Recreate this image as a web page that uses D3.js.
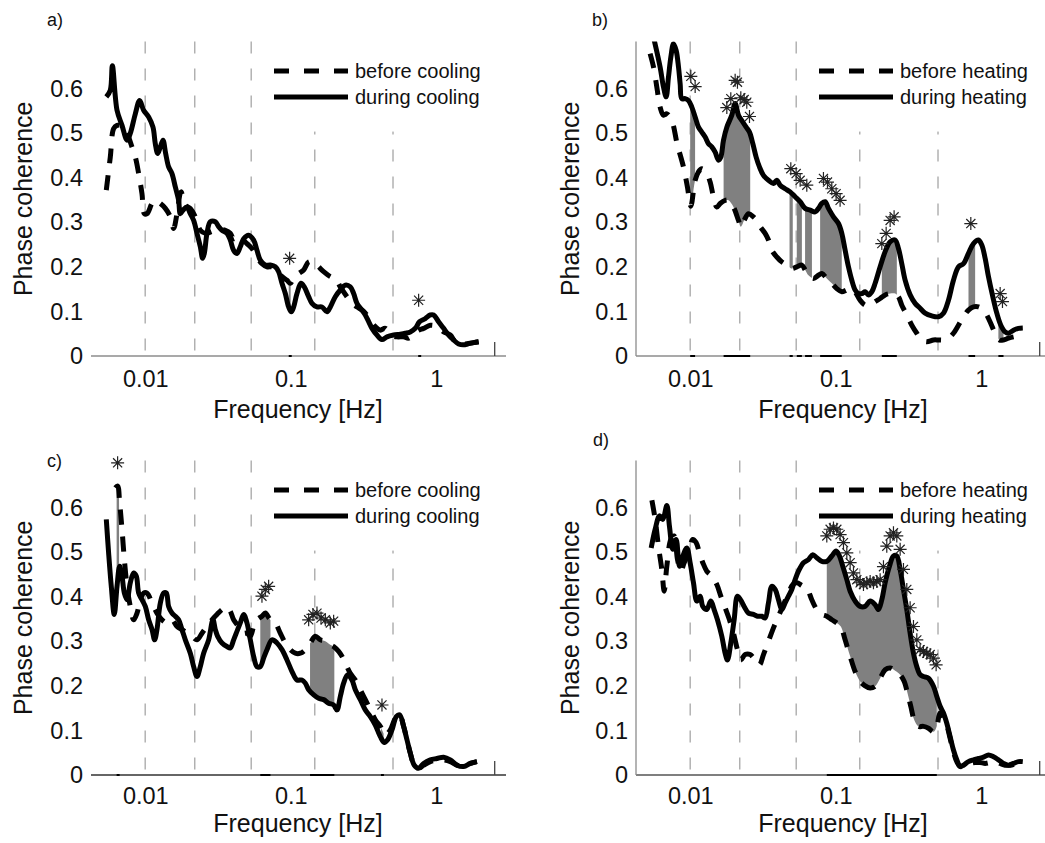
<!DOCTYPE html>
<html><head><meta charset="utf-8">
<script src="https://cdn.jsdelivr.net/npm/d3@7"></script>
<style>
html,body{margin:0;padding:0;background:#fff;}
svg{display:block;font-family:"Liberation Sans",Arial,Helvetica,sans-serif;}
</style></head>
<body>
<svg id="chart" width="1045" height="843"></svg>
<script>
// ---------------- data ----------------
const xTicks = [0.01, 0.1, 1];
const xTickLabels = ["0.01", "0.1", "1"];
const yTicks = [0, 0.1, 0.2, 0.3, 0.4, 0.5, 0.6];
const yTickLabels = ["0", "0.1", "0.2", "0.3", "0.4", "0.5", "0.6"];
const bandEdges = [0.0099, 0.0217, 0.053, 0.145, 0.5];
const panelLetters = ["a)", "b)", "c)", "d)"];
const legendCooling = ["before cooling", "during cooling"];
const legendHeating = ["before heating", "during heating"];

// panel a
const aDuring = [[0.00535,0.581],[0.0057,0.596],[0.00589,0.651],[0.00634,0.551],[0.00686,0.517],[0.00743,0.484],[0.00782,0.499],[0.00847,0.543],[0.00907,0.573],[0.00966,0.551],[0.01046,0.536],[0.0112,0.513],[0.01162,0.476],[0.01206,0.454],[0.01259,0.469],[0.01312,0.484],[0.01369,0.454],[0.01435,0.424],[0.01513,0.409],[0.01595,0.379],[0.01681,0.349],[0.01726,0.319],[0.018,0.327],[0.01918,0.334],[0.02022,0.319],[0.02132,0.304],[0.02248,0.275],[0.02369,0.245],[0.02458,0.219],[0.02524,0.23],[0.02633,0.275],[0.02775,0.301],[0.03004,0.301],[0.03167,0.29],[0.03338,0.282],[0.03612,0.275],[0.03808,0.26],[0.04015,0.237],[0.04232,0.23],[0.04461,0.245],[0.04703,0.263],[0.05089,0.271],[0.05508,0.26],[0.05807,0.237],[0.06121,0.215],[0.06627,0.204],[0.07173,0.204],[0.07762,0.2],[0.08185,0.189],[0.08628,0.163],[0.09095,0.14],[0.09587,0.11],[0.1,0.099],[0.1038,0.11],[0.1094,0.14],[0.1165,0.163],[0.1228,0.155],[0.1316,0.133],[0.1387,0.118],[0.1501,0.11],[0.1625,0.11],[0.1758,0.099],[0.1854,0.11],[0.2006,0.133],[0.2172,0.148],[0.235,0.159],[0.2544,0.155],[0.2682,0.14],[0.2827,0.118],[0.306,0.103],[0.3226,0.092],[0.3401,0.077],[0.3585,0.062],[0.388,0.047],[0.4199,0.037],[0.4545,0.043],[0.505,0.047],[0.5611,0.049],[0.6073,0.051],[0.6574,0.054],[0.7115,0.062],[0.7621,0.077],[0.8337,0.084],[0.9023,0.092],[0.9511,0.092],[1.029,0.077],[1.114,0.062],[1.206,0.047],[1.305,0.036],[1.413,0.027],[1.529,0.025],[1.655,0.028],[1.791,0.03],[1.939,0.032]];
const aBefore = [[0.00535,0.372],[0.0057,0.446],[0.00601,0.51],[0.00634,0.517],[0.00686,0.517],[0.00743,0.499],[0.00803,0.469],[0.00847,0.446],[0.00893,0.409],[0.00941,0.364],[0.00977,0.319],[0.01019,0.319],[0.01103,0.342],[0.01162,0.349],[0.01259,0.342],[0.01362,0.331],[0.01474,0.312],[0.01553,0.286],[0.01638,0.319],[0.01745,0.368],[0.01869,0.338],[0.02022,0.331],[0.02189,0.312],[0.02369,0.282],[0.02564,0.275],[0.02775,0.278],[0.03004,0.282],[0.03251,0.284],[0.03518,0.282],[0.03808,0.275],[0.04015,0.263],[0.04277,0.271],[0.0458,0.263],[0.04957,0.252],[0.05365,0.241],[0.05807,0.222],[0.06285,0.207],[0.06804,0.2],[0.07363,0.2],[0.0797,0.193],[0.08628,0.178],[0.09337,0.17],[0.0984,0.163],[0.1038,0.174],[0.1123,0.185],[0.1216,0.193],[0.1316,0.211],[0.1424,0.211],[0.1541,0.2],[0.1668,0.189],[0.1854,0.178],[0.2006,0.174],[0.2172,0.155],[0.2413,0.133],[0.2612,0.118],[0.2827,0.11],[0.306,0.103],[0.3226,0.096],[0.3491,0.081],[0.3779,0.066],[0.409,0.058],[0.4426,0.062],[0.4791,0.047],[0.5324,0.043],[0.5916,0.043],[0.6403,0.04],[0.6931,0.051],[0.75,0.058],[0.8119,0.062],[0.9023,0.069],[1.0025,0.066],[1.114,0.054],[1.238,0.047],[1.34,0.032],[1.45,0.028],[1.611,0.027],[1.791,0.03],[1.939,0.032]];
const aStars = [[0.0974,0.219],[0.75,0.125]];
const aBands = [[0.096,0.099],[0.745,0.76]];

// panel b
const bDuring = [[0.00554,0.715],[0.00615,0.648],[0.00649,0.603],[0.00677,0.581],[0.00702,0.625],[0.00729,0.67],[0.0076,0.7],[0.00793,0.685],[0.00823,0.648],[0.00845,0.61],[0.00867,0.577],[0.00914,0.577],[0.00963,0.573],[0.01016,0.558],[0.01071,0.536],[0.01129,0.513],[0.0119,0.502],[0.01255,0.491],[0.01323,0.476],[0.01394,0.469],[0.0147,0.457],[0.0155,0.439],[0.01608,0.446],[0.01677,0.484],[0.01768,0.513],[0.01913,0.54],[0.02017,0.566],[0.02126,0.54],[0.02241,0.528],[0.02401,0.513],[0.02531,0.502],[0.02668,0.476],[0.02812,0.446],[0.02963,0.424],[0.03158,0.405],[0.03418,0.394],[0.03699,0.387],[0.039,0.394],[0.04111,0.383],[0.04449,0.375],[0.04816,0.368],[0.05212,0.357],[0.05641,0.346],[0.06105,0.331],[0.06609,0.327],[0.07153,0.323],[0.07541,0.331],[0.07947,0.342],[0.08378,0.346],[0.08833,0.331],[0.09561,0.312],[0.1035,0.297],[0.1091,0.275],[0.115,0.237],[0.1212,0.2],[0.1278,0.17],[0.1347,0.148],[0.142,0.14],[0.1497,0.14],[0.1578,0.144],[0.1663,0.137],[0.1754,0.144],[0.1849,0.163],[0.2001,0.2],[0.2166,0.234],[0.2344,0.256],[0.2536,0.26],[0.2674,0.241],[0.2819,0.207],[0.2972,0.17],[0.3217,0.137],[0.3481,0.118],[0.3768,0.107],[0.4078,0.096],[0.4531,0.09],[0.5036,0.088],[0.5451,0.096],[0.5899,0.125],[0.6385,0.17],[0.6912,0.2],[0.7482,0.207],[0.8096,0.23],[0.8764,0.252],[0.9484,0.26],[0.9998,0.249],[1.054,0.219],[1.111,0.178],[1.19,0.133],[1.268,0.096],[1.351,0.069],[1.446,0.054],[1.525,0.051],[1.651,0.058],[1.786,0.062],[1.913,0.063]];
const bBefore = [[0.00525,0.678],[0.00554,0.648],[0.00584,0.603],[0.00615,0.558],[0.00649,0.54],[0.00684,0.543],[0.0074,0.528],[0.00805,0.476],[0.0089,0.424],[0.00948,0.379],[0.01,0.336],[0.01071,0.394],[0.01129,0.413],[0.0119,0.42],[0.01288,0.409],[0.01358,0.39],[0.01431,0.357],[0.01509,0.334],[0.01591,0.342],[0.01722,0.349],[0.01815,0.349],[0.01964,0.334],[0.02126,0.304],[0.02206,0.29],[0.02325,0.304],[0.02491,0.319],[0.02695,0.312],[0.02842,0.304],[0.02996,0.29],[0.03242,0.275],[0.03418,0.26],[0.03603,0.237],[0.039,0.222],[0.04221,0.211],[0.04568,0.204],[0.04944,0.196],[0.05353,0.2],[0.05793,0.204],[0.06105,0.193],[0.06434,0.181],[0.06966,0.174],[0.07541,0.181],[0.07947,0.185],[0.08603,0.174],[0.09311,0.163],[0.1008,0.151],[0.1091,0.144],[0.1181,0.148],[0.1278,0.151],[0.1347,0.144],[0.1458,0.125],[0.1578,0.114],[0.1708,0.114],[0.1849,0.122],[0.2001,0.129],[0.2166,0.137],[0.2344,0.14],[0.2536,0.14],[0.2674,0.133],[0.2819,0.114],[0.3051,0.092],[0.3303,0.069],[0.3575,0.051],[0.387,0.036],[0.4188,0.032],[0.4653,0.036],[0.5036,0.036],[0.5451,0.036],[0.5899,0.04],[0.6385,0.051],[0.6912,0.069],[0.7482,0.088],[0.8096,0.103],[0.8764,0.11],[0.9484,0.11],[1.027,0.103],[1.082,0.092],[1.153,0.073],[1.235,0.051],[1.323,0.036],[1.409,0.036],[1.525,0.04],[1.651,0.043],[1.786,0.045],[1.913,0.043]];
const bStars = [[0.01,0.627],[0.01071,0.604],[0.01768,0.557],[0.01883,0.577],[0.02017,0.618],[0.02092,0.614],[0.02206,0.579],[0.02325,0.575],[0.02425,0.569],[0.02531,0.537],[0.04867,0.42],[0.05296,0.409],[0.05641,0.394],[0.06268,0.383],[0.08158,0.398],[0.08695,0.39],[0.09311,0.375],[0.0997,0.364],[0.1062,0.349],[0.2055,0.252],[0.2201,0.275],[0.2344,0.304],[0.2496,0.312],[0.8404,0.297],[1.337,0.14],[1.387,0.122]];
const bBands = [[0.0099,0.0107],[0.0168,0.0256],[0.0477,0.0502],[0.0535,0.058],[0.061,0.068],[0.0774,0.109],[0.2055,0.2606],[0.81,0.9],[1.3,1.41]];

// panel c
const cDuring = [[0.00535,0.573],[0.00555,0.498],[0.00579,0.423],[0.00607,0.36],[0.00634,0.423],[0.00661,0.468],[0.00686,0.446],[0.00712,0.408],[0.00743,0.393],[0.00782,0.431],[0.00825,0.453],[0.0086,0.446],[0.00893,0.408],[0.00941,0.393],[0.00992,0.378],[0.01046,0.348],[0.01103,0.326],[0.0115,0.303],[0.01193,0.326],[0.01259,0.386],[0.01326,0.408],[0.01383,0.408],[0.01435,0.378],[0.01513,0.363],[0.01595,0.356],[0.01681,0.348],[0.01772,0.326],[0.01869,0.303],[0.02022,0.273],[0.02132,0.243],[0.02248,0.221],[0.02369,0.243],[0.02497,0.273],[0.02703,0.303],[0.02895,0.348],[0.03004,0.326],[0.03117,0.311],[0.03338,0.296],[0.03612,0.288],[0.03808,0.285],[0.04015,0.303],[0.04277,0.326],[0.04461,0.341],[0.04703,0.36],[0.04957,0.341],[0.05226,0.303],[0.05508,0.266],[0.05807,0.243],[0.06121,0.243],[0.06452,0.262],[0.06804,0.281],[0.07363,0.303],[0.0797,0.296],[0.08628,0.281],[0.09337,0.258],[0.1011,0.232],[0.1094,0.213],[0.1184,0.213],[0.1248,0.206],[0.1316,0.191],[0.1424,0.18],[0.1541,0.172],[0.1668,0.169],[0.1805,0.161],[0.1954,0.157],[0.206,0.146],[0.2172,0.176],[0.2289,0.206],[0.2438,0.225],[0.2612,0.213],[0.2754,0.191],[0.2981,0.169],[0.3226,0.146],[0.3491,0.131],[0.3779,0.112],[0.409,0.086],[0.4357,0.073],[0.4593,0.079],[0.4919,0.101],[0.5267,0.131],[0.5554,0.135],[0.5916,0.109],[0.6237,0.079],[0.6574,0.049],[0.7004,0.022],[0.75,0.015],[0.8119,0.026],[0.9023,0.034],[1.0025,0.037],[1.114,0.04],[1.238,0.034],[1.376,0.022],[1.529,0.019],[1.699,0.026],[1.888,0.03]];
const cBefore = [[0.00617,0.644],[0.0064,0.648],[0.00661,0.61],[0.00686,0.551],[0.00712,0.483],[0.00743,0.423],[0.00782,0.378],[0.00825,0.348],[0.0087,0.363],[0.00917,0.393],[0.00966,0.408],[0.01019,0.408],[0.01103,0.386],[0.01193,0.363],[0.01291,0.348],[0.01398,0.341],[0.01513,0.348],[0.01638,0.333],[0.01772,0.326],[0.01918,0.318],[0.02076,0.311],[0.02248,0.303],[0.02432,0.318],[0.02633,0.333],[0.0285,0.348],[0.03084,0.36],[0.03338,0.371],[0.03612,0.377],[0.03808,0.367],[0.04015,0.348],[0.04345,0.333],[0.04703,0.318],[0.04957,0.318],[0.05226,0.311],[0.05508,0.333],[0.05807,0.348],[0.06285,0.356],[0.06627,0.363],[0.07173,0.348],[0.07762,0.341],[0.084,0.318],[0.09095,0.296],[0.0984,0.281],[0.1065,0.273],[0.1153,0.273],[0.1248,0.281],[0.1351,0.296],[0.1462,0.311],[0.1583,0.303],[0.1713,0.3],[0.1854,0.292],[0.1954,0.288],[0.2115,0.277],[0.2229,0.266],[0.235,0.251],[0.2544,0.228],[0.2754,0.213],[0.2981,0.191],[0.3226,0.169],[0.3491,0.146],[0.3779,0.124],[0.409,0.109],[0.4426,0.09],[0.4791,0.101],[0.5187,0.127],[0.5554,0.135],[0.5916,0.109],[0.6237,0.079],[0.6574,0.049],[0.7004,0.022],[0.75,0.015],[0.8119,0.022],[0.9023,0.03],[1.0025,0.034],[1.114,0.034],[1.238,0.03],[1.376,0.022],[1.529,0.019],[1.699,0.026],[1.888,0.03]];
const cStars = [[0.0064,0.7],[0.06285,0.401],[0.06627,0.416],[0.06985,0.423],[0.1316,0.348],[0.1409,0.36],[0.1501,0.363],[0.16,0.352],[0.1713,0.348],[0.1854,0.341],[0.1954,0.345],[0.4199,0.157]];
const cBands = [[0.0063,0.00655],[0.0612,0.0719],[0.1345,0.1976],[0.413,0.431]];

// panel d
const dDuring = [[0.00534,0.509],[0.00569,0.551],[0.00609,0.581],[0.00642,0.573],[0.00684,0.604],[0.00713,0.558],[0.00752,0.506],[0.00793,0.528],[0.00836,0.468],[0.00881,0.491],[0.00939,0.509],[0.00989,0.476],[0.01043,0.431],[0.011,0.39],[0.01159,0.401],[0.01209,0.378],[0.01288,0.371],[0.01372,0.39],[0.01446,0.371],[0.01525,0.348],[0.01633,0.311],[0.01722,0.273],[0.01786,0.258],[0.01883,0.296],[0.01985,0.348],[0.02092,0.401],[0.02206,0.392],[0.02325,0.378],[0.02491,0.363],[0.02695,0.36],[0.02872,0.356],[0.03076,0.356],[0.03242,0.352],[0.03418,0.386],[0.03603,0.423],[0.03798,0.416],[0.04004,0.393],[0.04221,0.371],[0.04449,0.386],[0.0469,0.401],[0.04944,0.416],[0.05212,0.438],[0.05494,0.457],[0.05947,0.476],[0.06436,0.483],[0.06895,0.494],[0.07342,0.487],[0.07947,0.479],[0.08603,0.479],[0.09311,0.491],[0.0997,0.502],[0.1051,0.491],[0.1108,0.468],[0.1181,0.438],[0.1245,0.412],[0.1347,0.39],[0.1458,0.378],[0.1578,0.378],[0.1708,0.39],[0.1849,0.382],[0.1949,0.371],[0.2055,0.393],[0.2166,0.431],[0.2319,0.468],[0.2471,0.491],[0.2605,0.491],[0.2746,0.461],[0.2894,0.416],[0.3051,0.371],[0.3217,0.318],[0.3391,0.273],[0.3575,0.243],[0.3768,0.225],[0.3972,0.221],[0.43,0.217],[0.4653,0.199],[0.4906,0.176],[0.5171,0.154],[0.5451,0.139],[0.5746,0.116],[0.6058,0.086],[0.6385,0.056],[0.6731,0.034],[0.7096,0.019],[0.7482,0.022],[0.8096,0.03],[0.8764,0.034],[0.9484,0.037],[1.027,0.04],[1.111,0.045],[1.203,0.041],[1.302,0.034],[1.409,0.026],[1.525,0.022],[1.651,0.026],[1.786,0.03],[1.913,0.03]];
const dBefore = [[0.0054,0.616],[0.00569,0.573],[0.00599,0.513],[0.00632,0.461],[0.00656,0.412],[0.00684,0.468],[0.00729,0.528],[0.00768,0.536],[0.0081,0.483],[0.00853,0.457],[0.009,0.476],[0.00963,0.498],[0.01032,0.528],[0.01088,0.521],[0.01147,0.498],[0.01209,0.476],[0.01288,0.457],[0.01394,0.446],[0.01509,0.427],[0.01608,0.401],[0.01722,0.375],[0.01844,0.348],[0.01964,0.318],[0.02092,0.281],[0.02206,0.258],[0.02362,0.27],[0.02558,0.27],[0.02767,0.258],[0.02963,0.247],[0.03158,0.27],[0.03418,0.3],[0.03699,0.33],[0.04004,0.356],[0.04334,0.382],[0.0469,0.408],[0.05023,0.427],[0.05353,0.431],[0.05793,0.425],[0.06268,0.419],[0.06784,0.393],[0.07342,0.371],[0.07947,0.36],[0.08603,0.356],[0.09311,0.348],[0.1008,0.341],[0.1074,0.333],[0.115,0.303],[0.1245,0.266],[0.1347,0.232],[0.1458,0.21],[0.1578,0.2],[0.1708,0.195],[0.1849,0.199],[0.2001,0.217],[0.2166,0.236],[0.2344,0.24],[0.2536,0.234],[0.2746,0.225],[0.2925,0.21],[0.3084,0.184],[0.3251,0.154],[0.3427,0.124],[0.367,0.109],[0.3972,0.109],[0.43,0.105],[0.4653,0.097],[0.4906,0.109],[0.5171,0.139],[0.5451,0.131],[0.5746,0.112],[0.6058,0.082],[0.6385,0.052],[0.6731,0.03],[0.7096,0.019],[0.768,0.022],[0.8313,0.026],[0.8997,0.028],[0.9739,0.028],[1.054,0.026],[1.141,0.028],[1.235,0.03],[1.337,0.026],[1.446,0.022],[1.565,0.022],[1.74,0.026],[1.913,0.03]];
const dStars = [[0.08603,0.536],[0.0907,0.551],[0.09561,0.554],[0.1008,0.551],[0.1062,0.539],[0.112,0.521],[0.1181,0.498],[0.1245,0.476],[0.1312,0.453],[0.1383,0.438],[0.1458,0.431],[0.1537,0.427],[0.1621,0.431],[0.1708,0.434],[0.18,0.431],[0.1898,0.434],[0.2001,0.438],[0.2109,0.467],[0.2223,0.513],[0.2344,0.536],[0.2471,0.543],[0.2605,0.536],[0.2746,0.506],[0.2894,0.461],[0.3051,0.416],[0.3217,0.375],[0.3391,0.333],[0.3575,0.303],[0.3768,0.281],[0.3972,0.277],[0.4188,0.273],[0.4415,0.27],[0.4653,0.262],[0.4854,0.247]];
const dBands = [[0.086,0.4906]];

// ---------------- drawing ----------------
const svg = d3.select("#chart");
const defs = svg.append("defs");
const FONT = "'Liberation Sans', Arial, Helvetica, sans-serif";

const panels = [
  {id:"a", x0:91,  yb:356, before:aBefore, during:aDuring, stars:aStars, bands:aBands, legend:legendCooling, letter:[47,26],  axisColor:"#8c8c8c", yAxis:false, tickDy:31, xlabY:418},
  {id:"b", x0:636, yb:356, before:bBefore, during:bDuring, stars:bStars, bands:bBands, legend:legendHeating, letter:[592,26], axisColor:"#8c8c8c", yAxis:true,  tickDy:31, xlabY:418},
  {id:"c", x0:91,  yb:775, before:cBefore, during:cDuring, stars:cStars, bands:cBands, legend:legendCooling, letter:[47,467], axisColor:"#333",    yAxis:false, tickDy:29, xlabY:832},
  {id:"d", x0:636, yb:775, before:dBefore, during:dDuring, stars:dStars, bands:dBands, legend:legendHeating, letter:[593,446], axisColor:"#555",   yAxis:true,  tickDy:29, xlabY:832}
];

panels.forEach((p, i) => {
  const x = d3.scaleLog().domain([0.0042, 2.5]).range([p.x0, p.x0 + 403.7]);
  const y = d3.scaleLinear().domain([0, 0.705]).range([p.yb, p.yb - 0.705 * 446]);
  const top = y(0.705);
  const right = x(2.5);
  const g = svg.append("g");

  // clip for data area
  defs.append("clipPath").attr("id", "plot-" + p.id)
    .append("rect").attr("x", p.x0).attr("y", top).attr("width", right - p.x0 + 12).attr("height", p.yb - top);

  // band gridlines
  g.append("g").selectAll("line").data(bandEdges).join("line")
    .attr("x1", d => x(d)).attr("x2", d => x(d))
    .attr("y1", top).attr("y2", p.yb)
    .attr("stroke", "#a6a6a6").attr("stroke-width", 1.3)
    .attr("stroke-dasharray", "12,15");

  // legend background box (covers gridlines)
  g.append("rect").attr("x", p.x0 + 172).attr("y", top - 1)
    .attr("width", 250).attr("height", 91).attr("fill", "#fff");

  // shading between curves inside significance bands
  const curve = d3.curveCatmullRom.alpha(0.5);
  const below = d => d3.area().curve(curve).x(e => x(e[0])).y0(p.yb + 40).y1(e => y(e[1]))(d);
  const above = d => d3.area().curve(curve).x(e => x(e[0])).y0(top - 60).y1(e => y(e[1]))(d);
  const bandClip = defs.append("clipPath").attr("id", "bands-" + p.id);
  bandClip.selectAll("rect").data(p.bands).join("rect")
    .attr("x", d => x(d[0])).attr("width", d => Math.max(1.5, x(d[1]) - x(d[0])))
    .attr("y", top).attr("height", p.yb - top);
  defs.append("clipPath").attr("id", "aboveB-" + p.id).append("path").attr("d", above(p.before));
  defs.append("clipPath").attr("id", "aboveD-" + p.id).append("path").attr("d", above(p.during));
  const sg = g.append("g").attr("clip-path", `url(#bands-${p.id})`);
  sg.append("g").attr("clip-path", `url(#aboveB-${p.id})`)
    .append("path").attr("d", below(p.during)).attr("fill", "#808080");
  sg.append("g").attr("clip-path", `url(#aboveD-${p.id})`)
    .append("path").attr("d", below(p.before)).attr("fill", "#808080");

  // lines
  const line = d3.line().curve(curve).x(d => x(d[0])).y(d => y(d[1]));
  const lg = g.append("g").attr("clip-path", `url(#plot-${p.id})`);
  lg.append("path").attr("d", line(p.before)).attr("fill", "none")
    .attr("stroke", "#000").attr("stroke-width", 5).attr("stroke-dasharray", "15,12")
    .attr("stroke-linejoin", "round");
  lg.append("path").attr("d", line(p.during)).attr("fill", "none")
    .attr("stroke", "#000").attr("stroke-width", 5).attr("stroke-linejoin", "round");

  // asterisks
  const r = 6.5;
  const starPath = `M${-r},0L${r},0M0,${-r}L0,${r}M${-r*0.7},${-r*0.7}L${r*0.7},${r*0.7}M${-r*0.7},${r*0.7}L${r*0.7},${-r*0.7}`;
  g.append("g").selectAll("path").data(p.stars).join("path")
    .attr("transform", d => `translate(${x(d[0])},${y(d[1])})`)
    .attr("d", starPath).attr("fill", "none").attr("stroke", "#222").attr("stroke-width", 1.2);

  // axes
  g.append("line").attr("x1", p.x0).attr("x2", p.x0 + 415).attr("y1", p.yb).attr("y2", p.yb)
    .attr("stroke", p.axisColor).attr("stroke-width", 1.3);
  g.append("line").attr("x1", right).attr("x2", right).attr("y1", p.yb).attr("y2", p.yb - 14)
    .attr("stroke", "#444").attr("stroke-width", 1.3);
  if (p.yAxis) {
    g.append("line").attr("x1", p.x0).attr("x2", p.x0).attr("y1", top).attr("y2", p.yb)
      .attr("stroke", "#8c8c8c").attr("stroke-width", 1.3);
  }
  // marks of significant ranges on the axis
  g.append("g").selectAll("line").data(p.bands).join("line")
    .attr("x1", d => x(d[0])).attr("x2", d => Math.max(x(d[1]), x(d[0]) + 3))
    .attr("y1", p.yb).attr("y2", p.yb).attr("stroke", "#000").attr("stroke-width", 2);

  // tick labels
  g.append("g").selectAll("text").data(xTicks).join("text")
    .attr("x", d => x(d)).attr("y", p.yb + p.tickDy).attr("text-anchor", "middle")
    .attr("font-size", 23.5).attr("font-family", FONT).attr("fill", "#111")
    .text((d, k) => xTickLabels[k]);
  g.append("g").selectAll("text").data(yTicks).join("text")
    .attr("x", p.x0 - 8).attr("y", d => y(d)).attr("dy", "0.35em").attr("text-anchor", "end")
    .attr("font-size", 23.5).attr("font-family", FONT).attr("fill", "#111")
    .text((d, k) => yTickLabels[k]);

  // axis titles
  g.append("text").attr("x", p.x0 + 207).attr("y", p.xlabY).attr("text-anchor", "middle")
    .attr("font-size", 25).attr("font-family", FONT).attr("fill", "#111").text("Frequency [Hz]");
  const yl = p.x0 < 300 ? 23 : 570;
  g.append("text").attr("transform", `translate(${yl},${(p.yb + top) / 2}) rotate(-90)`)
    .attr("text-anchor", "middle").attr("dominant-baseline", "central")
    .attr("font-size", 25).attr("font-family", FONT).attr("fill", "#111").text("Phase coherence");

  // legend
  const ly = [top + 29.5, top + 55.5];
  g.append("line").attr("x1", p.x0 + 183).attr("x2", p.x0 + 257).attr("y1", ly[0]).attr("y2", ly[0])
    .attr("stroke", "#000").attr("stroke-width", 5).attr("stroke-dasharray", "15,15");
  g.append("line").attr("x1", p.x0 + 183).attr("x2", p.x0 + 257).attr("y1", ly[1]).attr("y2", ly[1])
    .attr("stroke", "#000").attr("stroke-width", 5);
  g.append("g").selectAll("text").data(p.legend).join("text")
    .attr("x", p.x0 + 264).attr("y", (d, k) => ly[k]).attr("dy", "0.35em")
    .attr("font-size", 20).attr("font-family", FONT).attr("fill", "#111").text(d => d);

  // panel letter
  g.append("text").attr("x", p.letter[0]).attr("y", p.letter[1])
    .attr("font-size", 18).attr("font-family", FONT).attr("fill", "#111").text(panelLetters[i]);
});
</script>
</body></html>
